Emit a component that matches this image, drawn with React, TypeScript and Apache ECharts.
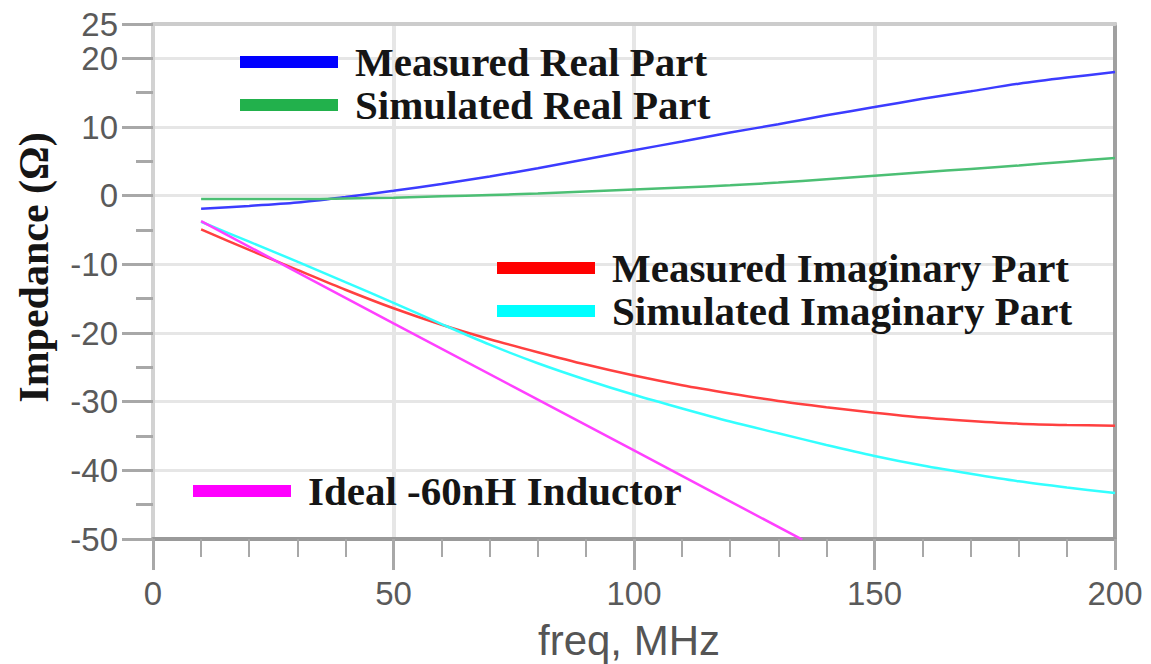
import React, { useEffect, useRef } from "react";
import * as echarts from "echarts";

// Frequency sweep (MHz) shared by the four measured / simulated traces
const freqMHz = [10, 20, 30, 40, 50, 60, 70, 80, 90, 100, 110, 120, 130, 140, 150, 160, 170, 180, 190, 200];

// Impedance values in ohms
const measuredReal = [-1.9, -1.5, -1.0, -0.2, 0.7, 1.7, 2.8, 4.0, 5.3, 6.6, 7.9, 9.2, 10.4, 11.7, 12.9, 14.1, 15.2, 16.3, 17.2, 18.0];
const simulatedReal = [-0.5, -0.5, -0.5, -0.4, -0.3, -0.1, 0.1, 0.3, 0.6, 0.9, 1.2, 1.5, 1.9, 2.4, 2.9, 3.4, 3.9, 4.4, 4.95, 5.5];
const measuredImag = [-4.9, -7.9, -10.8, -13.7, -16.4, -18.8, -20.9, -22.8, -24.6, -26.2, -27.6, -28.8, -29.9, -30.8, -31.6, -32.3, -32.8, -33.2, -33.4, -33.5];
const simulatedImag = [-3.8, -6.7, -9.6, -12.6, -15.6, -18.7, -21.7, -24.4, -26.8, -29.0, -31.0, -32.9, -34.6, -36.3, -37.9, -39.3, -40.5, -41.6, -42.5, -43.3];

// Ideal -60 nH inductor reactance (straight line)
const inductorFreqMHz = [10, 50, 100, 135];
const inductorImag = [-3.7, -18.6, -37.1, -50.1];

const seriesNames = [
  "Measured Real Part",
  "Simulated Real Part",
  "Measured Imaginary Part",
  "Simulated Imaginary Part",
  "Ideal -60nH Inductor",
];
const legendColors = ["#0000ff", "#22b14c", "#ff0000", "#00ffff", "#ff00ff"];
const lineColors = ["#3c3cff", "#4cbf74", "#ff4040", "#33ffff", "#ff40ff"];

const xTicks = { min: 0, max: 200, major: 50, minorSplit: 5 };
const yTicks = { min: -50, max: 25, major: 10, minor: 5 };

const serif = "'Liberation Serif', 'Times New Roman', serif";
const sans = "'Liberation Sans', Arial, sans-serif";

export default function App() {
  const ref = useRef<HTMLDivElement>(null);

  useEffect(() => {
    if (!ref.current) return;
    const chart = echarts.init(ref.current, undefined, { renderer: "svg" });

    const pairs = (xs: number[], ys: number[]) => xs.map((x, i) => [x, ys[i]]);
    const traces = [
      pairs(freqMHz, measuredReal),
      pairs(freqMHz, simulatedReal),
      pairs(freqMHz, measuredImag),
      pairs(freqMHz, simulatedImag),
      pairs(inductorFreqMHz, inductorImag),
    ];

    const legendText = {
      fontFamily: serif,
      fontWeight: "bold" as const,
      fontSize: 41,
      color: "#151515",
      lineHeight: 43,
      padding: [0, 0, 0, 12],
    };
    const legendBase = {
      orient: "vertical" as const,
      icon: "rect",
      itemWidth: 98,
      itemHeight: 12,
      itemGap: 0,
      padding: 0,
      selectedMode: false,
      textStyle: legendText,
    };
    const legendItem = (i: number) => ({ name: seriesNames[i], itemStyle: { color: legendColors[i] } });

    const tickLabel = { fontFamily: sans, fontSize: 33, color: "#5a5a5a" };

    chart.setOption({
      animation: false,
      backgroundColor: "#ffffff",
      grid: {
        left: 153,
        right: 36,
        top: 24,
        bottom: 125,
        containLabel: false,
        outerBoundsMode: "none",
      },
      legend: [
        { ...legendBase, left: 240, top: 40.5, data: [legendItem(0), legendItem(1)] },
        { ...legendBase, left: 497, top: 246.5, data: [legendItem(2), legendItem(3)] },
        { ...legendBase, left: 193, top: 469.5, data: [legendItem(4)] },
      ],
      xAxis: [
        {
          type: "value",
          position: "bottom",
          min: xTicks.min,
          max: xTicks.max,
          interval: xTicks.major,
          axisLine: { show: true, onZero: false, lineStyle: { color: "#9a9a9a", width: 4 } },
          axisTick: { show: true, length: 31, lineStyle: { color: "#a8a8a8", width: 3 } },
          minorTick: { show: true, splitNumber: xTicks.minorSplit, length: 18, lineStyle: { color: "#a8a8a8", width: 2 } },
          splitLine: { show: true, lineStyle: { color: "#e6e6e6", width: 4 } },
          axisLabel: { ...tickLabel, margin: 38, showMinLabel: true, showMaxLabel: true },
          name: "freq, MHz",
          nameLocation: "middle",
          nameGap: 80,
          nameTextStyle: { fontFamily: sans, fontSize: 42, color: "#555555", padding: [0, 10, 0, 0] },
        },
        {
          // top frame line
          type: "value",
          position: "top",
          min: xTicks.min,
          max: xTicks.max,
          axisLine: { show: true, onZero: false, lineStyle: { color: "#cccccc", width: 4 } },
          axisTick: { show: false },
          axisLabel: { show: false },
          splitLine: { show: false },
        },
      ],
      yAxis: [
        {
          type: "value",
          position: "left",
          min: yTicks.min,
          max: yTicks.max,
          interval: yTicks.major,
          axisLine: { show: true, onZero: false, lineStyle: { color: "#d2d2d2", width: 4 } },
          axisTick: { show: true, length: 31, lineStyle: { color: "#a8a8a8", width: 3 } },
          splitLine: { show: true, lineStyle: { color: "#e6e6e6", width: 3 } },
          axisLabel: { ...tickLabel, margin: 35, showMinLabel: true, showMaxLabel: true },
          name: "Impedance (Ω)",
          nameLocation: "middle",
          nameRotate: 90,
          nameGap: 98,
          nameTextStyle: {
            fontFamily: serif,
            fontWeight: "bold",
            fontSize: 42,
            color: "#151515",
            padding: [0, 0, 0, 28],
          },
        },
        {
          // minor ticks every 5 Ω
          type: "value",
          position: "left",
          min: yTicks.min,
          max: yTicks.max,
          interval: yTicks.minor,
          axisLine: { show: false, onZero: false },
          axisTick: { show: true, length: 17, lineStyle: { color: "#a8a8a8", width: 3 } },
          axisLabel: { show: false },
          splitLine: { show: false },
        },
        {
          // right frame line
          type: "value",
          position: "right",
          min: yTicks.min,
          max: yTicks.max,
          axisLine: { show: true, onZero: false, lineStyle: { color: "#a0a0a0", width: 4 } },
          axisTick: { show: false },
          axisLabel: { show: false },
          splitLine: { show: false },
        },
      ],
      series: traces.map((data, i) => ({
        name: seriesNames[i],
        type: "line",
        xAxisIndex: 0,
        yAxisIndex: 0,
        data,
        smooth: 0.3,
        showSymbol: false,
        clip: true,
        itemStyle: { color: legendColors[i] },
        lineStyle: { color: lineColors[i], width: 2.5 },
      })),
    });

    return () => chart.dispose();
  }, []);

  return (
    <div
      ref={ref}
      style={{ position: "fixed", left: 0, top: 0, width: 1151, height: 664, background: "#ffffff" }}
    />
  );
}
